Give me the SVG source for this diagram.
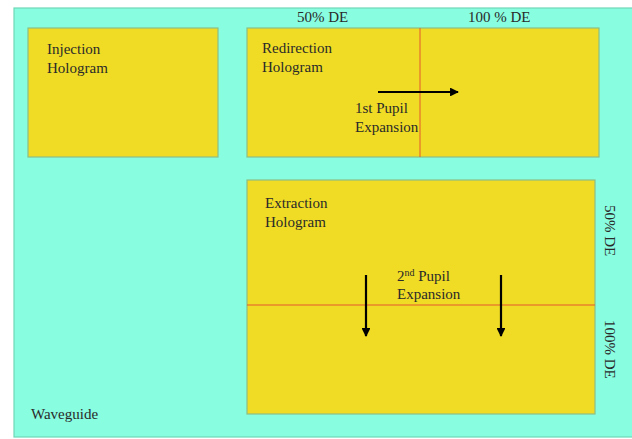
<svg xmlns="http://www.w3.org/2000/svg" width="632" height="439" viewBox="0 0 632 439">
<style>
text{font-family:"Liberation Serif","Times New Roman",serif;font-size:15px;fill:#2a2a2a}
.holo{fill:#f0dc24;stroke:#8cbf86;stroke-width:1.2}
.div{stroke:#e2582c;stroke-width:1}
.arr{stroke:#000;stroke-width:2.2;fill:none}
</style>
<defs>
<marker id="ah" viewBox="0 0 10 10" refX="9" refY="5" markerWidth="4" markerHeight="4" orient="auto" markerUnits="strokeWidth">
<path d="M0,0 L10,5 L0,10 z" fill="#000"/>
</marker>
</defs>
<rect width="632" height="439" fill="#ffffff"/>
<g id="waveguide">
<rect x="14" y="8" width="622" height="429" fill="#88fde0" stroke="#6fd8b6" stroke-width="1.2"/>
<text x="31" y="419">Waveguide</text>
</g>
<g id="injection">
<rect class="holo" x="28" y="28" width="190" height="129"/>
<text x="47" y="54">Injection</text>
<text x="47" y="73">Hologram</text>
</g>
<g id="redirection">
<rect class="holo" x="247" y="28" width="352" height="129"/>
<line class="div" x1="420" y1="28" x2="420" y2="157"/>
<text x="262" y="53">Redirection</text>
<text x="262" y="72">Hologram</text>
<text x="355" y="113">1st Pupil</text>
<text x="355" y="132">Expansion</text>
<text x="297" y="22">50% DE</text>
<text x="468" y="22">100 % DE</text>
</g>
<g id="extraction">
<rect class="holo" x="247" y="180" width="348" height="234"/>
<line class="div" x1="247" y1="305" x2="595" y2="305"/>
<text x="265" y="208">Extraction</text>
<text x="265" y="227">Hologram</text>
<text x="397" y="281">2<tspan font-size="10" dy="-5">nd</tspan><tspan dy="5"> Pupil</tspan></text>
<text x="397" y="299">Expansion</text>
<text transform="translate(605,205) rotate(90)">50% DE</text>
<text transform="translate(605,320) rotate(90)">100% DE</text>
</g>
<g id="connectors">
<line class="arr" x1="378" y1="92" x2="458" y2="92" marker-end="url(#ah)"/>
<line class="arr" x1="366" y1="275" x2="366" y2="336" marker-end="url(#ah)"/>
<line class="arr" x1="501" y1="275" x2="501" y2="336" marker-end="url(#ah)"/>
</g>
</svg>
